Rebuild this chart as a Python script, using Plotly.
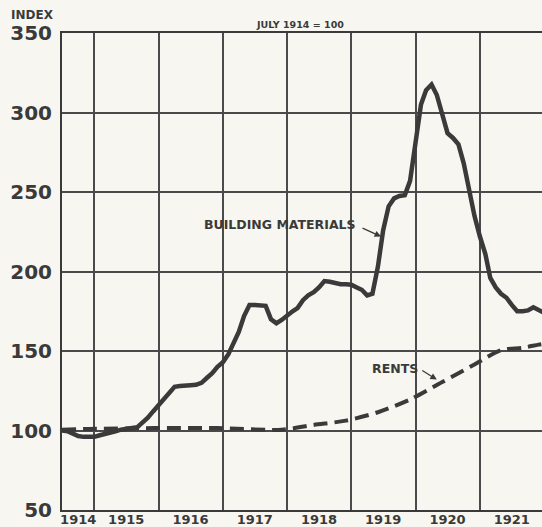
import pandas as pd
import plotly.graph_objects as go

# ---------------- data ----------------
# Building materials, monthly index (July 1914 = 100), Jul 1914 .. Jan 1922
building_materials = [
    100, 99.5, 98, 96.5, 96, 95.8,                                   # 1914 Jul-Dec
    96, 97, 98, 98.8, 99.5, 100.5, 101, 101.5, 102, 105, 108, 112,   # 1915
    116, 120, 124, 127.5, 128, 128.5, 128.5, 128.7, 130, 133, 136, 140,  # 1916
    143, 148, 154, 162, 172, 179, 179, 178.5, 178.4, 170, 167.5, 169.5,  # 1917
    172.5, 175, 177, 182, 185, 187, 190, 194, 193.5, 192.7, 192, 192,    # 1918
    191.7, 190, 188.5, 185, 186, 203, 226, 241, 246, 247.5, 248, 257,    # 1919
    279, 305, 314, 317.6, 311, 298, 287, 284, 280, 268, 250, 235,        # 1920
    222, 211, 196, 190, 186, 183.5, 179, 175, 175, 175.5, 177.5, 176,    # 1921
    174,                                                                  # 1922 Jan
]
bm_dates = pd.date_range("1914-07-01", periods=len(building_materials), freq="MS")

# Rents, survey dates
rent_dates = ["1914-07-01", "1914-12-01", "1915-12-01", "1916-12-01", "1917-12-01",
              "1918-06-01", "1918-12-01", "1919-06-01", "1919-12-01", "1920-06-01",
              "1920-12-01", "1921-05-01", "1921-09-01", "1921-12-01", "1922-01-01"]
rents = [100.5, 101, 101.5, 101.5, 100.5,
         103.5, 106.2, 111.5, 119.5, 130.5,
         141.5, 150.5, 152, 154, 154.5]

year_labels = ["1914", "1915", "1916", "1917", "1918", "1919", "1920", "1921"]
year_label_pos = ["1914-10-01", "1915-07-01", "1916-07-01", "1917-07-01",
                  "1918-07-01", "1919-07-01", "1920-07-01", "1921-07-01"]
year_bounds = ["1915-01-01", "1916-01-01", "1917-01-01", "1918-01-01",
               "1919-01-01", "1920-01-01", "1921-01-01", "1922-01-01"]
y_ticks = [50, 100, 150, 200, 250, 300, 350]

# ---------------- style ----------------
INK = "#3a3a3a"
GRID = "#4a4a4a"
PAPER = "#f7f6f1"
FONT = "DejaVu Sans"

W, H = 542, 527
L, R, T, B = 62, 0, 33, 17
pw, ph = W - L - R, H - T - B


def px_x(x):
    return (x - L) / pw


def px_y(y):
    return (H - B - y) / ph


fig = go.Figure()
fig.add_trace(go.Scatter(
    x=bm_dates, y=building_materials, mode="lines",
    line=dict(color=INK, width=4.5), hoverinfo="skip", showlegend=False))
fig.add_trace(go.Scatter(
    x=rent_dates, y=rents, mode="lines",
    line=dict(color=INK, width=4, dash="14px,7px", shape="spline", smoothing=0.8),
    hoverinfo="skip", showlegend=False))

fig.update_layout(
    width=W, height=H,
    margin=dict(l=L, r=R, t=T, b=B),
    paper_bgcolor=PAPER, plot_bgcolor=PAPER,
    font=dict(family=FONT, color=INK),
    showlegend=False,
    xaxis=dict(
        type="date",
        range=["1914-07-01", "1921-12-20"],
        tickmode="array", tickvals=year_label_pos, ticktext=year_labels,
        ticks="", showgrid=False, zeroline=False,
        showline=True, linecolor=INK, linewidth=2, mirror=True,
        tickfont=dict(family=FONT, size=13, color=INK, weight="bold"),
        ticklabelstandoff=-4,
        automargin=False,
        minor=dict(tickmode="array", tickvals=year_bounds, showgrid=True,
                   gridcolor=GRID, gridwidth=2, ticks=""),
    ),
    yaxis=dict(
        range=[50, 350],
        tickmode="array", tickvals=y_ticks,
        ticks="", showgrid=True, gridcolor=GRID, gridwidth=2,
        zeroline=False, showline=True, linecolor=INK, linewidth=2,
        tickfont=dict(family=FONT, size=20, color=INK, weight="bold"),
        ticklabelstandoff=4,
        automargin=False,
    ),
    annotations=[
        dict(text="INDEX", xref="paper", yref="paper", x=px_x(9), y=px_y(15),
             xanchor="left", yanchor="middle", showarrow=False,
             font=dict(family=FONT, size=12, color=INK, weight="bold")),
        dict(text="JULY 1914 = 100", xref="paper", yref="paper", x=px_x(300), y=px_y(25),
             xanchor="center", yanchor="middle", showarrow=False,
             font=dict(family=FONT, size=9.5, color=INK, weight="bold")),
        dict(text="BUILDING MATERIALS", x="1919-02-09", y=229.4,
             xanchor="right", yanchor="middle", showarrow=False,
             font=dict(family=FONT, size=12.5, color=INK, weight="bold")),
        dict(text="", x="1919-06-19", y=222, ax=-20, ay=-9,
             showarrow=True, arrowhead=2, arrowsize=1, arrowwidth=1.3, arrowcolor=INK),
        dict(text="RENTS", x="1920-01-26", y=138.8,
             xanchor="right", yanchor="middle", showarrow=False,
             font=dict(family=FONT, size=12.5, color=INK, weight="bold")),
        dict(text="", x="1920-05-01", y=132, ax=-16, ay=-10,
             showarrow=True, arrowhead=2, arrowsize=1, arrowwidth=1.3, arrowcolor=INK),
    ],
)

# remove the page's default body margin so the figure sits at the window's corner
fig.write_html("out.html",
               config={"displayModeBar": False, "staticPlot": True},
               post_script="document.body.style.margin='0';document.body.style.overflow='hidden';")
